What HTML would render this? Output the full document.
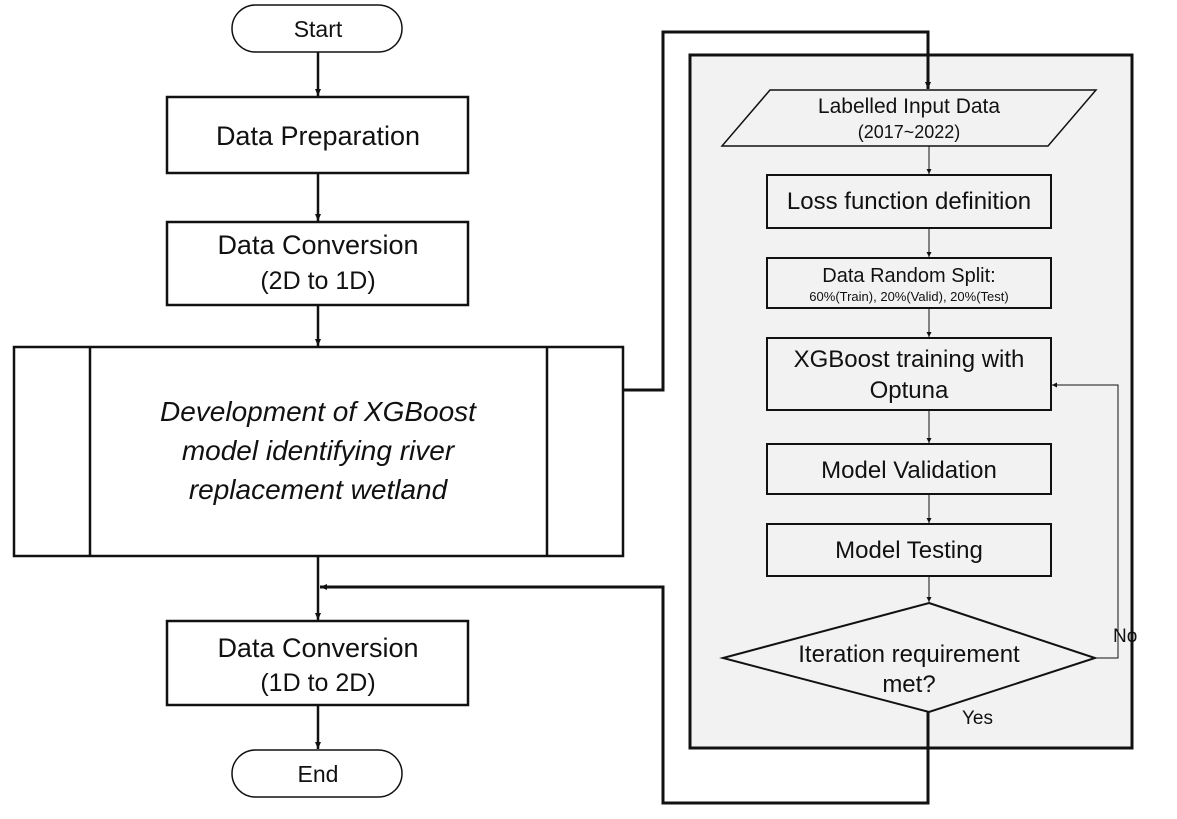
<!DOCTYPE html>
<html><head><meta charset="utf-8"><style>
html,body{margin:0;padding:0;background:#fff;}
svg text{font-family:"Liberation Sans",sans-serif;fill:#111;}
</style></head><body>
<svg width="1177" height="814" viewBox="0 0 1177 814" xmlns="http://www.w3.org/2000/svg">
<defs>
<marker id="a" markerWidth="8" markerHeight="8" refX="7" refY="4" orient="auto" markerUnits="userSpaceOnUse"><path d="M0,1 L7,4 L0,7 Z" fill="#111"/></marker>
<marker id="s" markerWidth="6" markerHeight="6" refX="5" refY="3" orient="auto" markerUnits="userSpaceOnUse"><path d="M0,0.5 L5,3 L0,5.5 Z" fill="#111"/></marker>
</defs>
<!-- right panel -->
<rect x="690" y="55" width="442" height="693" fill="#f2f2f2" stroke="#111" stroke-width="3"/>
<!-- left flow -->
<rect x="232" y="5" width="170" height="47" rx="23.5" fill="#fff" stroke="#111" stroke-width="1.5"/>
<text x="318" y="37" font-size="23" text-anchor="middle">Start</text>
<line x1="318" y1="52" x2="318" y2="96" stroke="#111" stroke-width="2.5" marker-end="url(#a)"/>
<rect x="167" y="97" width="301" height="76" fill="#fff" stroke="#111" stroke-width="2.5"/>
<text x="318" y="145" font-size="27" text-anchor="middle">Data Preparation</text>
<line x1="318" y1="173" x2="318" y2="221" stroke="#111" stroke-width="2.5" marker-end="url(#a)"/>
<rect x="167" y="222" width="301" height="83" fill="#fff" stroke="#111" stroke-width="2.5"/>
<text x="318" y="254" font-size="27" text-anchor="middle">Data Conversion</text>
<text x="318" y="289" font-size="25" text-anchor="middle">(2D to 1D)</text>
<line x1="318" y1="305" x2="318" y2="346" stroke="#111" stroke-width="2.5" marker-end="url(#a)"/>
<rect x="14" y="347" width="609" height="209" fill="#fff" stroke="#111" stroke-width="2.5"/>
<line x1="90" y1="347" x2="90" y2="556" stroke="#111" stroke-width="2.5"/>
<line x1="547" y1="347" x2="547" y2="556" stroke="#111" stroke-width="2.5"/>
<text x="318" y="421" font-size="28" font-style="italic" text-anchor="middle">Development of XGBoost</text>
<text x="318" y="460" font-size="28" font-style="italic" text-anchor="middle">model identifying river</text>
<text x="318" y="499" font-size="28" font-style="italic" text-anchor="middle">replacement wetland</text>
<line x1="318" y1="556" x2="318" y2="620" stroke="#111" stroke-width="2.5" marker-end="url(#a)"/>
<rect x="167" y="621" width="301" height="84" fill="#fff" stroke="#111" stroke-width="2.5"/>
<text x="318" y="657" font-size="27" text-anchor="middle">Data Conversion</text>
<text x="318" y="691" font-size="25" text-anchor="middle">(1D to 2D)</text>
<line x1="318" y1="705" x2="318" y2="749" stroke="#111" stroke-width="2.5" marker-end="url(#a)"/>
<rect x="232" y="750" width="170" height="47" rx="23.5" fill="#fff" stroke="#111" stroke-width="1.5"/>
<text x="318" y="782" font-size="23" text-anchor="middle">End</text>
<!-- connectors -->
<polyline points="623,390 663,390 663,32 928,32 928,89" fill="none" stroke="#111" stroke-width="3" marker-end="url(#a)"/>
<polyline points="928,712 928,803 663,803 663,587 320,587" fill="none" stroke="#111" stroke-width="3" marker-end="url(#a)"/>
<!-- right flow -->
<polygon points="770,90 1096,90 1048,146 722,146" fill="#f2f2f2" stroke="#111" stroke-width="1.5"/>
<text x="909" y="113" font-size="21" text-anchor="middle">Labelled Input Data</text>
<text x="909" y="138" font-size="18" text-anchor="middle">(2017~2022)</text>
<line x1="929" y1="146" x2="929" y2="174" stroke="#111" stroke-width="1" marker-end="url(#s)"/>
<rect x="767" y="175" width="284" height="53" fill="#f2f2f2" stroke="#111" stroke-width="2"/>
<text x="909" y="209" font-size="24" text-anchor="middle">Loss function definition</text>
<line x1="929" y1="228" x2="929" y2="257" stroke="#111" stroke-width="1" marker-end="url(#s)"/>
<rect x="767" y="258" width="284" height="50" fill="#f2f2f2" stroke="#111" stroke-width="2"/>
<text x="909" y="282" font-size="20" text-anchor="middle">Data Random Split:</text>
<text x="909" y="301" font-size="13" text-anchor="middle">60%(Train), 20%(Valid), 20%(Test)</text>
<line x1="929" y1="308" x2="929" y2="337" stroke="#111" stroke-width="1" marker-end="url(#s)"/>
<rect x="767" y="338" width="284" height="72" fill="#f2f2f2" stroke="#111" stroke-width="2"/>
<text x="909" y="367" font-size="24" text-anchor="middle">XGBoost training with</text>
<text x="909" y="398" font-size="24" text-anchor="middle">Optuna</text>
<line x1="929" y1="410" x2="929" y2="443" stroke="#111" stroke-width="1" marker-end="url(#s)"/>
<rect x="767" y="444" width="284" height="50" fill="#f2f2f2" stroke="#111" stroke-width="2"/>
<text x="909" y="478" font-size="24" text-anchor="middle">Model Validation</text>
<line x1="929" y1="494" x2="929" y2="523" stroke="#111" stroke-width="1" marker-end="url(#s)"/>
<rect x="767" y="524" width="284" height="52" fill="#f2f2f2" stroke="#111" stroke-width="2"/>
<text x="909" y="558" font-size="24" text-anchor="middle">Model Testing</text>
<line x1="929" y1="576" x2="929" y2="602" stroke="#111" stroke-width="1" marker-end="url(#s)"/>
<polygon points="929,603 1095,658 929,712 723,658" fill="#f2f2f2" stroke="#111" stroke-width="2"/>
<text x="909" y="662" font-size="24" text-anchor="middle">Iteration requirement</text>
<text x="909" y="692" font-size="24" text-anchor="middle">met?</text>
<polyline points="1095,658 1118,658 1118,385 1052,385" fill="none" stroke="#111" stroke-width="1" marker-end="url(#s)"/>
<text x="1113" y="642" font-size="19">No</text>
<text x="962" y="724" font-size="19">Yes</text>
</svg>
</body></html>
